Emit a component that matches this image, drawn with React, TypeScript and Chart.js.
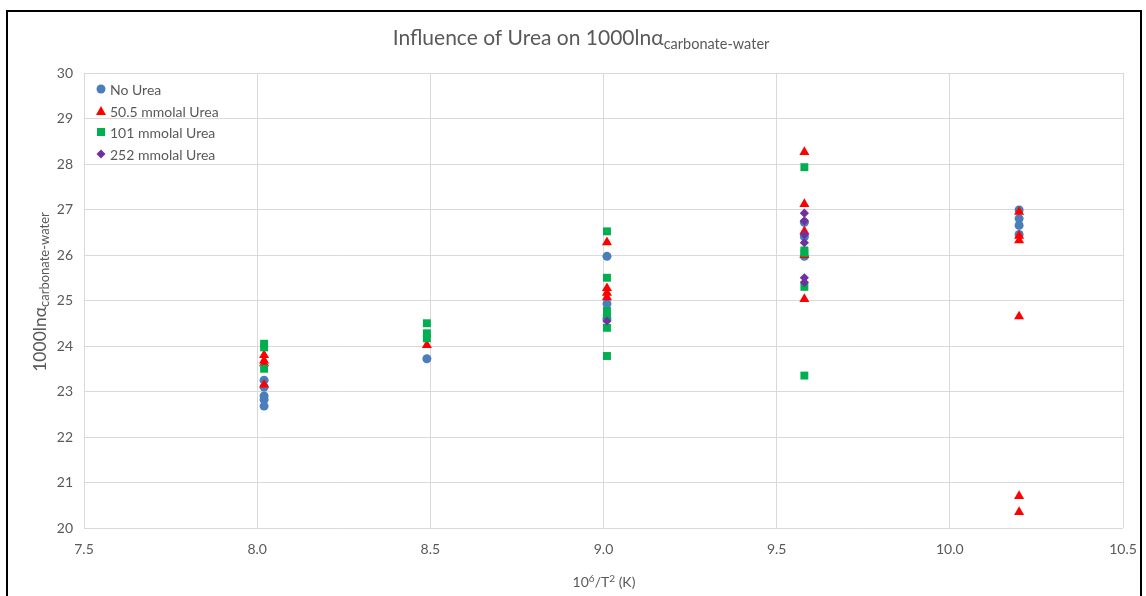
import React, { useEffect, useRef } from "react";
import { Chart, registerables } from "chart.js";

Chart.register(...registerables);

// ---------- data ----------
const seriesNames = ["No Urea", "50.5 mmolal Urea", "101 mmolal Urea", "252 mmolal Urea"];
const seriesColors = ["#4a7ebb", "#ff0000", "#00b050", "#7030a0"];
const seriesShapes = ["circle", "triangle", "rect", "rectRot"];

const noUreaX = [8.02, 8.02, 8.02, 8.02, 8.02, 8.49, 9.01, 9.01, 9.01, 9.58, 9.58, 9.58, 10.2, 10.2, 10.2, 10.2];
const noUreaY = [22.68, 22.82, 22.9, 23.1, 23.25, 23.72, 25.97, 24.93, 24.6, 26.72, 26.4, 25.97, 26.99, 26.8, 26.65, 26.45];

const urea50X = [8.02, 8.02, 8.02, 8.02, 8.49, 9.01, 9.01, 9.01, 9.01, 9.58, 9.58, 9.58, 9.58, 9.58, 10.2, 10.2, 10.2, 10.2, 10.2, 10.2];
const urea50Y = [23.8, 23.68, 23.62, 23.15, 24.02, 26.28, 25.27, 25.17, 25.07, 28.26, 27.12, 26.52, 26.0, 25.03, 26.95, 26.42, 26.32, 24.65, 20.7, 20.35];

const urea101X = [8.02, 8.02, 8.02, 8.49, 8.49, 8.49, 9.01, 9.01, 9.01, 9.01, 9.01, 9.01, 9.58, 9.58, 9.58, 9.58, 9.58];
const urea101Y = [24.05, 23.97, 23.5, 24.5, 24.28, 24.17, 26.52, 25.5, 24.77, 24.68, 24.4, 23.78, 27.93, 26.1, 26.05, 25.3, 23.35];

const urea252X = [9.01, 9.58, 9.58, 9.58, 9.58, 9.58, 9.58];
const urea252Y = [24.55, 26.92, 26.75, 26.45, 26.27, 25.5, 25.4];

const xTicks = [7.5, 8.0, 8.5, 9.0, 9.5, 10.0, 10.5];
const yTicks = [20, 21, 22, 23, 24, 25, 26, 27, 28, 29, 30];

const titleMain = "Influence of Urea on 1000lnα";
const titleSub = "carbonate-water";
const yTitleMain = "1000lnα";
const yTitleSub = "carbonate-water";

const FONT = "Lato, 'Open Sans', sans-serif";
const TEXT = "#595959";

type Seg = { t: string; size: number; dy: number };

function drawRich(ctx: CanvasRenderingContext2D, segs: Seg[], cx: number, y: number) {
  let total = 0;
  const widths: number[] = [];
  for (const s of segs) {
    ctx.font = `${s.size}px ${FONT}`;
    const w = ctx.measureText(s.t).width;
    widths.push(w);
    total += w;
  }
  let x = cx - total / 2;
  ctx.textAlign = "left";
  ctx.textBaseline = "alphabetic";
  segs.forEach((s, i) => {
    ctx.font = `${s.size}px ${FONT}`;
    ctx.fillText(s.t, x, y + s.dy);
    x += widths[i];
  });
}

function drawMarker(ctx: CanvasRenderingContext2D, shape: string, x: number, y: number, color: string) {
  ctx.fillStyle = color;
  ctx.beginPath();
  if (shape === "circle") {
    ctx.arc(x, y, 4.5, 0, Math.PI * 2);
  } else if (shape === "triangle") {
    ctx.moveTo(x, y - 5);
    ctx.lineTo(x + 5, y + 4);
    ctx.lineTo(x - 5, y + 4);
    ctx.closePath();
  } else if (shape === "rect") {
    ctx.rect(x - 4, y - 4, 8, 8);
  } else {
    ctx.moveTo(x, y - 4.5);
    ctx.lineTo(x + 4.5, y);
    ctx.lineTo(x, y + 4.5);
    ctx.lineTo(x - 4.5, y);
    ctx.closePath();
  }
  ctx.fill();
}

const framePlugin = {
  id: "frame",
  beforeDraw(chart: any) {
    const ctx: CanvasRenderingContext2D = chart.ctx;
    ctx.save();
    ctx.fillStyle = "#ffffff";
    ctx.fillRect(0, 0, chart.width, chart.height);
    ctx.strokeStyle = "#000000";
    ctx.lineWidth = 2;
    ctx.strokeRect(7, 11, 1134, 600);
    ctx.restore();
  },
};

const textPlugin = {
  id: "richText",
  afterDraw(chart: any) {
    const ctx: CanvasRenderingContext2D = chart.ctx;
    ctx.save();
    ctx.fillStyle = TEXT;
    // chart title
    drawRich(ctx, [
      { t: titleMain, size: 21, dy: 0 },
      { t: titleSub, size: 14.5, dy: 4 },
    ], 581, 45);
    // y axis title
    ctx.save();
    ctx.translate(46, 292);
    ctx.rotate(-Math.PI / 2);
    ctx.fillStyle = TEXT;
    drawRich(ctx, [
      { t: yTitleMain, size: 17.5, dy: 0 },
      { t: yTitleSub, size: 13, dy: 3 },
    ], 0, 0);
    ctx.restore();
    // x axis title
    ctx.fillStyle = TEXT;
    drawRich(ctx, [
      { t: "10", size: 14, dy: 0 },
      { t: "6", size: 10, dy: -5 },
      { t: "/T", size: 14, dy: 0 },
      { t: "2", size: 10, dy: -5 },
      { t: " (K)", size: 14, dy: 0 },
    ], 604, 587);
    // legend
    const rows = [89, 111, 132, 154];
    seriesNames.forEach((name, i) => {
      drawMarker(ctx, seriesShapes[i], 101, rows[i], seriesColors[i]);
      ctx.fillStyle = TEXT;
      ctx.font = `14px ${FONT}`;
      ctx.textAlign = "left";
      ctx.textBaseline = "middle";
      ctx.fillText(name, 110, rows[i] + 1);
    });
    ctx.restore();
  },
};

function toPoints(xs: number[], ys: number[]) {
  return xs.map((x, i) => ({ x, y: ys[i] }));
}

export default function App() {
  const ref = useRef<HTMLCanvasElement>(null);
  useEffect(() => {
    document.documentElement.style.overflow = "hidden";
    document.body.style.overflow = "hidden";
    if (!ref.current) return;
    const radii = [4.5, 5.8, 5.6, 4.6];
    const data = [
      toPoints(noUreaX, noUreaY),
      toPoints(urea50X, urea50Y),
      toPoints(urea101X, urea101Y),
      toPoints(urea252X, urea252Y),
    ];
    const chart = new Chart(ref.current, {
      type: "scatter",
      data: {
        datasets: data.map((d, i) => ({
          label: seriesNames[i],
          data: d,
          pointStyle: seriesShapes[i] as any,
          pointRadius: radii[i],
          pointHoverRadius: radii[i],
          backgroundColor: seriesColors[i],
          borderColor: seriesColors[i],
          borderWidth: 0,
          order: 4 - i,
        })),
      },
      plugins: [framePlugin, textPlugin],
      options: {
        responsive: false,
        animation: false,
        devicePixelRatio: 1,
        layout: { padding: { top: 73, right: 23, left: 0, bottom: 0 } },
        plugins: {
          legend: { display: false },
          title: { display: false },
          tooltip: { enabled: false },
        },
        scales: {
          x: {
            type: "linear",
            min: 7.5,
            max: 10.5,
            afterFit: (s: any) => {
              s.height = 68;
              s.paddingLeft = 0;
              s.paddingRight = 0;
            },
            afterBuildTicks: (s: any) => { s.ticks = xTicks.map((v) => ({ value: v })); },
            grid: { color: "#d9d9d9", drawTicks: false },
            border: { display: false },
            ticks: {
              color: TEXT,
              font: { family: FONT, size: 14 },
              padding: 13,
              callback: (v: any) => Number(v).toFixed(1),
            },
          },
          y: {
            type: "linear",
            min: 20,
            max: 30,
            afterFit: (s: any) => {
              s.width = 84;
              s.paddingTop = 0;
              s.paddingBottom = 0;
            },
            afterBuildTicks: (s: any) => { s.ticks = yTicks.map((v) => ({ value: v })); },
            grid: { color: "#d9d9d9", drawTicks: false },
            border: { display: false },
            ticks: {
              color: TEXT,
              font: { family: FONT, size: 14 },
              padding: 11,
            },
          },
        },
      },
    });
    return () => chart.destroy();
  }, []);

  return (
    <div style={{ position: "absolute", left: 0, top: 0, width: 1146, height: 596 }}>
      <canvas ref={ref} width={1146} height={596} style={{ display: "block" }} />
    </div>
  );
}
